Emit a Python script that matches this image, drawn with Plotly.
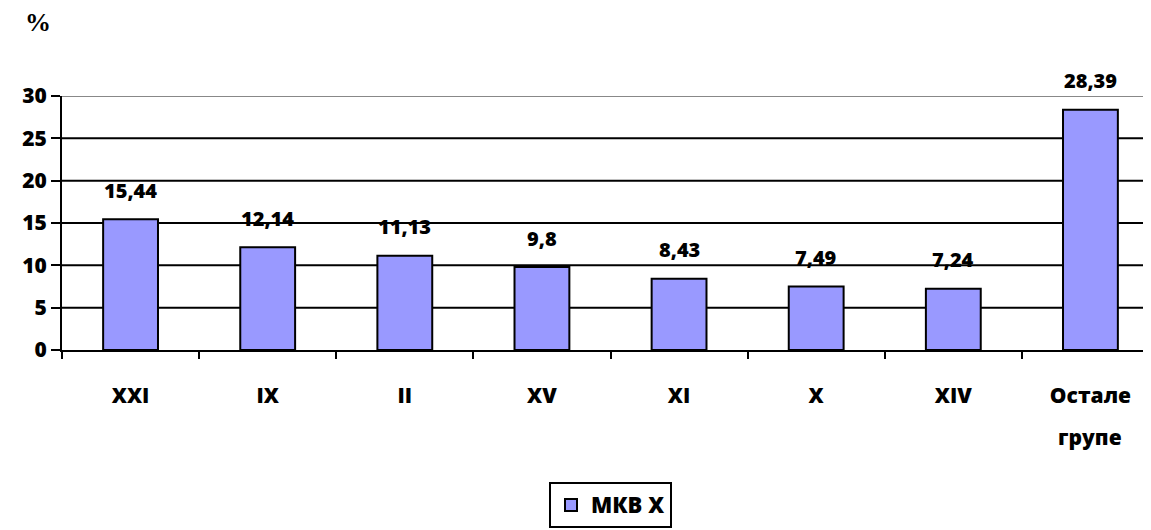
import plotly.graph_objects as go

categories = ["XXI", "IX", "II", "XV", "XI", "X", "XIV", "Остале<br>групе"]
values = [15.44, 12.14, 11.13, 9.8, 8.43, 7.49, 7.24, 28.39]
labels = ["15,44", "12,14", "11,13", "9,8", "8,43", "7,49", "7,24", "28,39"]
series_name = "МКВ X"
y_ticks = [0, 5, 10, 15, 20, 25, 30]

FONT = "Open Sans"
W = 800

first_lines = [c.split("<br>")[0] for c in categories]

fig = go.Figure()
fig.add_trace(go.Bar(
    x=list(range(len(categories))), y=values, name=series_name,
    width=0.4,
    marker=dict(color="#9999FF", line=dict(color="black", width=2)),
    showlegend=True,
))

for i, (v, t) in enumerate(zip(values, labels)):
    fig.add_annotation(x=i, y=v, text=t, showarrow=False,
                       yshift=29, font=dict(family=FONT, size=20, color="black", weight=W))

# second lines of wrapped category labels (wider line spacing, as in the reference)
for i, c in enumerate(categories):
    parts = c.split("<br>")
    for k, p in enumerate(parts[1:], start=1):
        fig.add_annotation(x=i, xref="x", yref="paper", y=-0.3425 - 0.16 * (k - 1),
                           yanchor="middle", text=p, showarrow=False,
                           font=dict(family=FONT, size=21, color="black", weight=W))

fig.add_annotation(xref="paper", yref="paper", x=-0.022, y=1.29, xanchor="center", yanchor="middle",
                   text="<b>%</b>", showarrow=False,
                   font=dict(family="Liberation Serif, Times New Roman, serif", size=26, color="black"))

# horizontal grid lines (top one grey like the reference)
for v in y_ticks[1:]:
    fig.add_shape(type="line", xref="paper", yref="y", x0=0, x1=1, y0=v, y1=v,
                  layer="below",
                  line=dict(color="#888888" if v == y_ticks[-1] else "black", width=2))

fig.update_layout(
    width=1151, height=530,
    margin=dict(l=54, r=0, t=88, b=188),
    plot_bgcolor="white", paper_bgcolor="white",
    xaxis=dict(
        tickmode="array", tickvals=list(range(len(categories))),
        ticktext=first_lines,
        range=[-0.5, 7.5],
        showline=True, linecolor="black", linewidth=2,
        ticks="", showgrid=False, zeroline=False,
        tickfont=dict(family=FONT, size=21, color="black", weight=W),
        ticklabelstandoff=26,
    ),
    xaxis2=dict(
        overlaying="x", matches="x", side="bottom",
        tickmode="array", tickvals=[i - 0.5 for i in range(len(categories) + 1)],
        showticklabels=False, ticks="outside", tickcolor="black", tickwidth=2, ticklen=8,
        showgrid=False, zeroline=False, showline=False,
    ),
    yaxis=dict(
        range=[0, 30], tickvals=y_ticks,
        showline=True, linecolor="black", linewidth=2,
        ticks="outside", tickcolor="black", tickwidth=2, ticklen=9,
        showgrid=False, zeroline=False,
        tickfont=dict(family=FONT, size=21, color="black", weight=W),
    ),
    legend=dict(
        orientation="h", x=0.5, xanchor="center", y=-0.52, yanchor="top",
        bordercolor="black", borderwidth=2,
        font=dict(family=FONT, size=22, color="black", weight=W),
    ),
    showlegend=True,
)
# invisible trace to activate the boundary-tick axis
fig.add_trace(go.Scatter(x=[0], y=[0], xaxis="x2", mode="markers",
                         marker=dict(opacity=0), showlegend=False, hoverinfo="skip"))

fig.write_html("out.html")
